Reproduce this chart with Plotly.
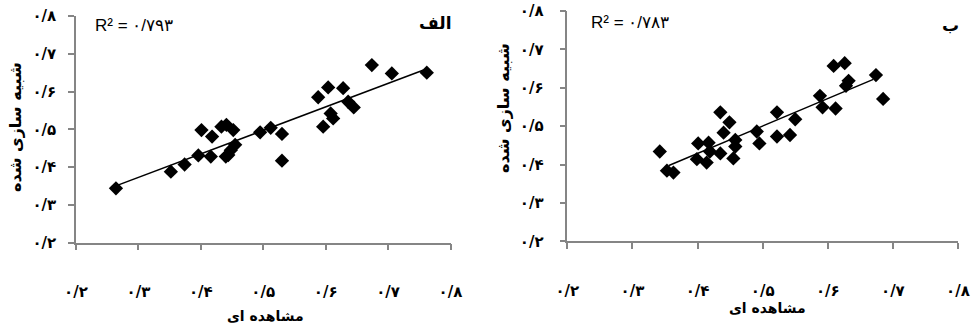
import numpy as np
import plotly.graph_objects as go

# ---- data ----
alef_obs = [0.264, 0.352, 0.374, 0.396, 0.401, 0.418, 0.416, 0.440, 0.441, 0.433,
            0.452, 0.455, 0.448, 0.444, 0.495, 0.512, 0.530, 0.530, 0.588, 0.604,
            0.596, 0.608, 0.612, 0.628, 0.636, 0.645, 0.674, 0.706, 0.762]
alef_sim = [0.344, 0.388, 0.407, 0.431, 0.498, 0.481, 0.428, 0.428, 0.512, 0.507,
            0.498, 0.459, 0.445, 0.432, 0.492, 0.504, 0.488, 0.417, 0.585, 0.611,
            0.507, 0.542, 0.529, 0.609, 0.573, 0.558, 0.670, 0.648, 0.650]
be_obs = [0.342, 0.353, 0.363, 0.399, 0.401, 0.414, 0.417, 0.419, 0.435, 0.449,
          0.440, 0.435, 0.455, 0.458, 0.458, 0.491, 0.495, 0.522, 0.522, 0.542,
          0.550, 0.588, 0.592, 0.612, 0.609, 0.626, 0.632, 0.628, 0.674, 0.685]
be_sim = [0.434, 0.384, 0.379, 0.414, 0.455, 0.405, 0.457, 0.434, 0.536, 0.510,
          0.483, 0.429, 0.416, 0.464, 0.447, 0.486, 0.455, 0.536, 0.473, 0.477,
          0.518, 0.579, 0.549, 0.546, 0.657, 0.664, 0.618, 0.605, 0.633, 0.571]
alef_trend_x = [0.266, 0.757]
be_trend_x = [0.356, 0.670]

tick_vals = [0.2, 0.3, 0.4, 0.5, 0.6, 0.7, 0.8]
tick_text = ["۰/۲", "۰/۳", "۰/۴", "۰/۵", "۰/۶", "۰/۷", "۰/۸"]
r2_alef = "R² = ۰/۷۹۳"
r2_be = "R² = ۰/۷۸۳"
panel_alef = "الف"
panel_be = "ب"
x_title = "مشاهده ای"
y_title = "شبیه سازی شده"

W, H = 976, 327
fig = go.Figure()

def add_panel(xs, ys, tx, xa, ya):
    m, c = np.polyfit(xs, ys, 1)
    fig.add_trace(go.Scatter(x=xs, y=ys, mode="markers", xaxis=xa, yaxis=ya,
                             marker=dict(symbol="diamond", size=11, color="black",
                                         line=dict(width=0)),
                             showlegend=False, hoverinfo="skip"))
    tx = np.array(tx)
    fig.add_trace(go.Scatter(x=tx, y=m * tx + c, mode="lines", xaxis=xa, yaxis=ya,
                             line=dict(color="black", width=1.5),
                             showlegend=False, hoverinfo="skip"))

add_panel(alef_obs, alef_sim, alef_trend_x, "x", "y")
add_panel(be_obs, be_sim, be_trend_x, "x2", "y2")

tickfont = dict(family="DejaVu Sans", size=15, color="black", weight="bold")
axis_common = dict(range=[0.2, 0.8], tickvals=tick_vals, ticktext=tick_text,
                   showgrid=False, zeroline=False, showline=True, automargin=False,
                   linecolor="#858585", linewidth=1.5, ticks="outside",
                   tickcolor="#858585", ticklen=6, tickwidth=1.5,
                   tickfont=tickfont, fixedrange=True)

fig.update_layout(
    width=W, height=H, margin=dict(l=0, r=0, t=0, b=0),
    paper_bgcolor="white", plot_bgcolor="white",
    xaxis=dict(domain=[76 / W, 450.5 / W], anchor="y", ticklabelstandoff=29, **axis_common),
    yaxis=dict(domain=[1 - 242.7 / H, 1 - 16 / H], anchor="x", ticklabelstandoff=9, **axis_common),
    xaxis2=dict(domain=[567.3 / W, 958 / W], anchor="y2", ticklabelstandoff=29, **axis_common),
    yaxis2=dict(domain=[1 - 241.3 / H, 1 - 11 / H], anchor="x2", ticklabelstandoff=13, **axis_common),
)

def px_ann(text, x, y, size, bold=False, angle=0, family="DejaVu Sans"):
    fig.add_annotation(text=text, x=x / W, y=1 - y / H, xref="paper", yref="paper",
                       showarrow=False, textangle=angle, xanchor="center", yanchor="middle",
                       font=dict(family=family, size=size, color="black",
                                 weight="bold" if bold else "normal"))

# R² texts
px_ann(r2_alef, 134, 25, 17, family="Liberation Sans")
px_ann(r2_be, 630, 23, 17, family="Liberation Sans")
# panel labels
px_ann(panel_alef, 435, 23, 17, bold=True)
px_ann(panel_be, 950, 25, 17, bold=True)
# axis titles
px_ann(x_title, 265, 316, 14, bold=True)
px_ann(x_title, 767, 308, 14, bold=True)
px_ann(y_title, 15, 127, 16, bold=True, angle=-90)
px_ann(y_title, 503, 108, 16, bold=True, angle=-90)

fig.write_html("out.html", config={"displayModeBar": False},
               post_script="document.body.style.margin='0px';")
